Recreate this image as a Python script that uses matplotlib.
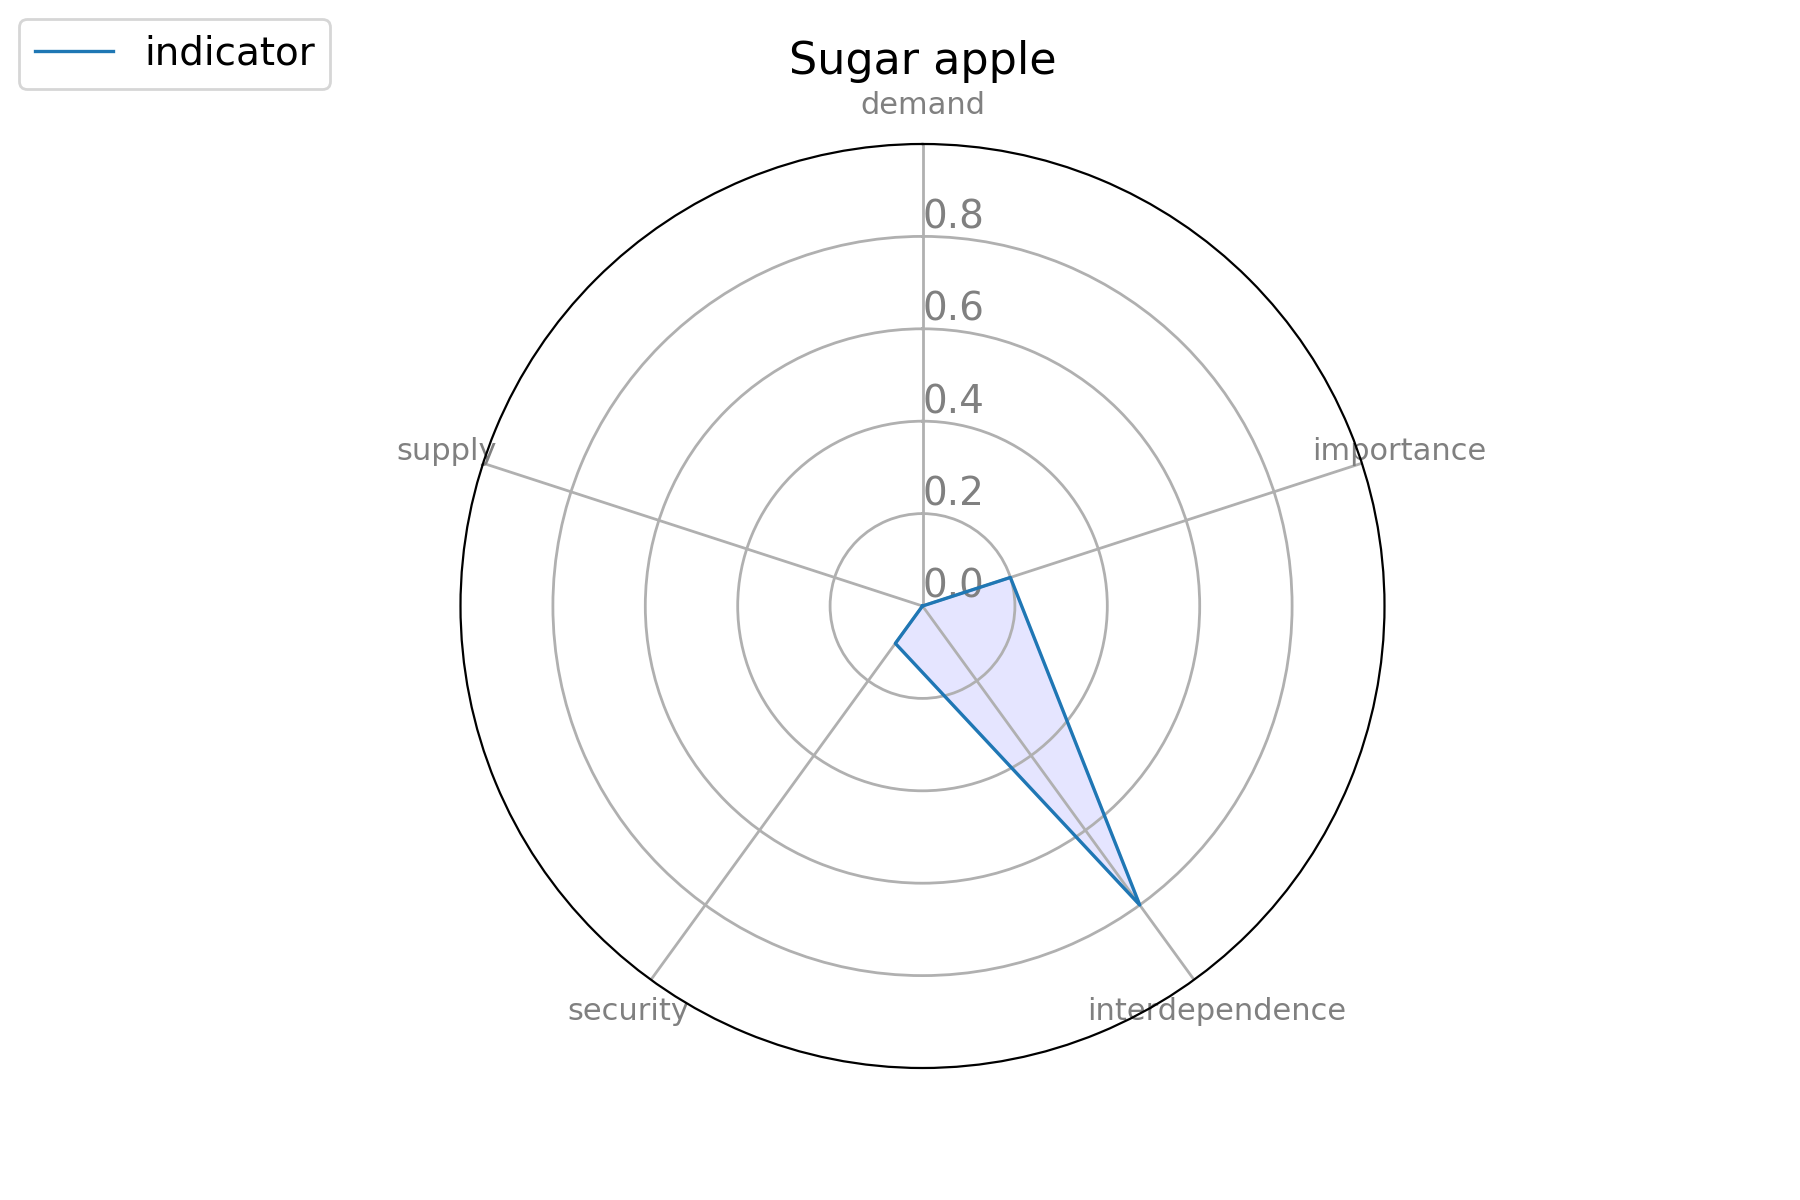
import numpy as np
import matplotlib
matplotlib.use("Agg")
import matplotlib.pyplot as plt

categories = ["demand", "importance", "interdependence", "security", "supply"]
values = [0.0, 0.2, 0.8, 0.1, 0.0]
rticks = [0.0, 0.2, 0.4, 0.6, 0.8]
title = "Sugar apple"

n = len(categories)
angles = np.linspace(0, 2 * np.pi, n, endpoint=False).tolist()
vals = values + values[:1]
ang = angles + angles[:1]

fig = plt.figure(figsize=(9, 6), dpi=200)
ax = fig.add_subplot(111, polar=True)
ax.set_theta_offset(np.pi / 2)
ax.set_theta_direction(-1)
ax.set_xticks(angles)
ax.set_xticklabels(categories, color="grey", fontsize=11)
ax.set_ylim(0, 1)
ax.set_yticks(rticks)
ax.set_yticklabels([f"{t:.1f}" for t in rticks], color="grey", fontsize=14)
ax.set_rlabel_position(0)
ax.grid(color="#b0b0b0", linewidth=1)
ax.plot(ang, vals, color="#1f77b4", linewidth=1.2, label="indicator")
ax.fill(ang, vals, color="blue", alpha=0.1)
ax.set_title(title, fontsize=16)
fig.legend(loc="upper left", fontsize=14, bbox_to_anchor=(0.0, 1.0))
fig.savefig("out.png")
